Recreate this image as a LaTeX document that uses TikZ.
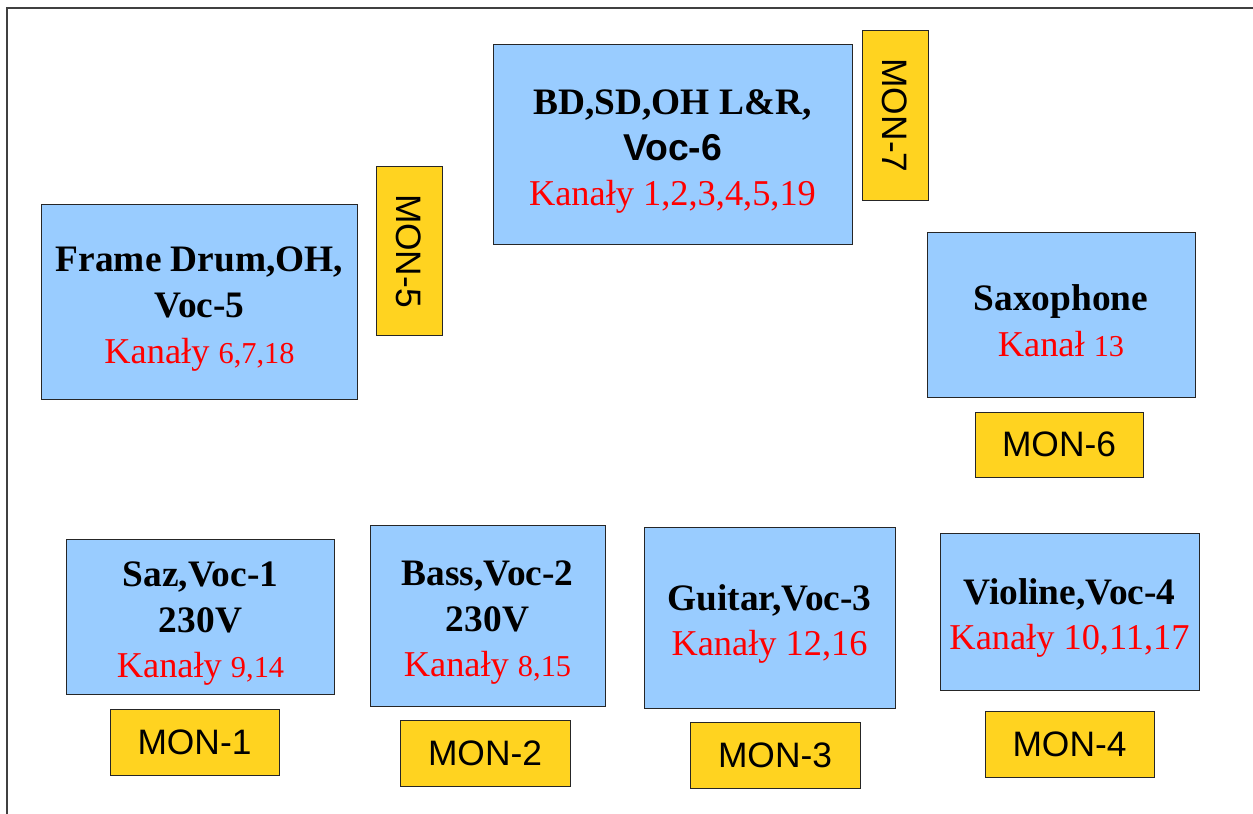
\documentclass[tikz,border=0pt]{standalone}
\usepackage{fontspec}
\setmainfont{Liberation Serif}
\setsansfont{Liberation Sans}
\definecolor{boxblue}{HTML}{99CCFF}
\definecolor{monyellow}{HTML}{FFD320}
\definecolor{chred}{HTML}{FF0000}
\newcommand\dg[1]{{\fontsize{30.5}{46}\selectfont #1}}
\newcommand\kan[1]{\textcolor{chred}{\fontsize{36.5}{46}\selectfont #1}}
\newcommand\tstrut{\rule{0pt}{39bp}}
\begin{document}
\begin{tikzpicture}[x=1bp,y=-1bp,
  inst/.style={draw=black!85, fill=boxblue, line width=1bp, inner sep=0pt, align=center, font=\fontsize{37.5}{46}\selectfont},
  mon/.style={draw=black!85, fill=monyellow, line width=1bp, inner sep=0pt, font=\sffamily\fontsize{35.5}{45}\selectfont},
  frameline/.style={draw=black!75, line width=1.5bp}]
\useasboundingbox (0,0) rectangle (1253,814);
\coordinate (bl) at (7,814);
\coordinate (tl) at (7,8);
\coordinate (tr) at (1253,8);
\draw[frameline] (bl) -- (tl) -- (tr);

\node[inst, minimum width=359bp, minimum height=199bp] (drums) at (672.5,144.5)
  {\tstrut\bfseries BD,SD,OH L\&R,\\ {\sffamily\bfseries Voc-6}\\ \kan{Kanały 1,2,3,4,5,19}};
\node[inst, minimum width=315bp, minimum height=194bp] (frame) at (199.5,302)
  {\tstrut\bfseries Frame Drum,OH,\\ \bfseries Voc-5\\ \kan{Kanały \dg{6,7,18}}};
\node[inst, minimum width=268bp, minimum height=165bp] (sax) at (1061,314.5)
  {\tstrut\bfseries Saxophone\\ \kan{Kanał \dg{13}}};
\node[inst, minimum width=267bp, minimum height=155bp] (saz) at (200.5,616.5)
  {\tstrut\bfseries Saz,Voc-1\\ \bfseries 230V\\ \kan{Kanały \dg{9,14}}};
\node[inst, minimum width=235bp, minimum height=181bp] (bass) at (487.5,615.5)
  {\tstrut\bfseries Bass,Voc-2\\ \bfseries 230V\\ \kan{Kanały \dg{8,15}}};
\node[inst, minimum width=251bp, minimum height=181bp] (guitar) at (769.5,617.5)
  {\tstrut\bfseries Guitar,Voc-3\\ \kan{Kanały 12,16}};
\node[inst, minimum width=259bp, minimum height=157bp] (violine) at (1069.5,611.5)
  {\tstrut\bfseries Violine,Voc-4\\ \kan{Kanały 10,11,17}};

\node[mon, minimum width=169bp, minimum height=66bp, rotate=-90] (mon7) at (895,115.5) {MON-7};
\node[mon, minimum width=168bp, minimum height=66bp, rotate=-90] (mon5) at (409,251) {MON-5};
\node[mon, minimum width=168bp, minimum height=65bp] (mon6) at (1059,444.5) {MON-6};
\node[mon, minimum width=169bp, minimum height=66bp] (mon1) at (194.5,742) {MON-1};
\node[mon, minimum width=170bp, minimum height=66bp] (mon2) at (485,753) {MON-2};
\node[mon, minimum width=170bp, minimum height=66bp] (mon3) at (775,755) {MON-3};
\node[mon, minimum width=169bp, minimum height=66bp] (mon4) at (1069.5,744) {MON-4};
\end{tikzpicture}
\end{document}
